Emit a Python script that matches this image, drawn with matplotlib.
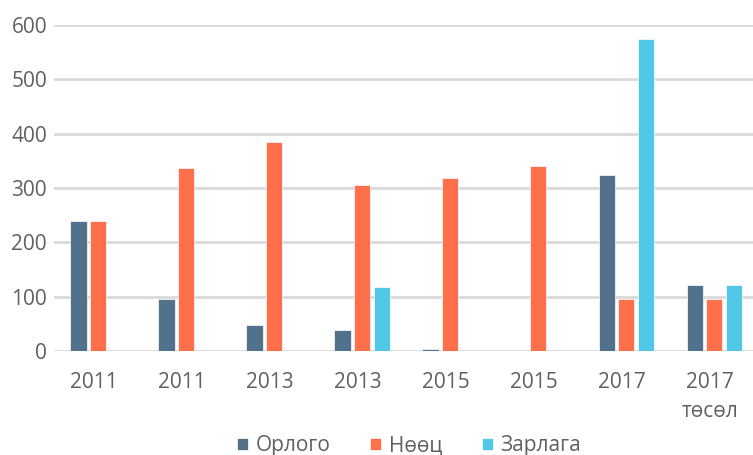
import numpy as np
import matplotlib
matplotlib.use("Agg")
import matplotlib.pyplot as plt

# categories and series
categories = ["2011", "2011", "2013", "2013", "2015", "2015", "2017", "2017\nтөсөл"]
orlogo = [240, 96, 48, 39, 4, 0, 324, 122]
neots = [240, 337, 385, 306, 319, 341, 96, 96]
zarlaga = [0, 0, 0, 118, 0, 0, 574, 122]
series_names = ["Орлого", "Нөөц", "Зарлага"]
colors = ["#52718b", "#ff6f4a", "#51c7e8"]

plt.rcParams["font.family"] = ["Open Sans", "DejaVu Sans"]

fig = plt.figure(figsize=(7.53, 4.55), dpi=100)
ax = fig.add_axes([54 / 753, 104 / 455, 1 - 54 / 753, 326 / 455])

x = np.arange(len(categories))
w = 0.185
step = 0.222
for k, (vals, name, c) in enumerate(zip([orlogo, neots, zarlaga], series_names, colors)):
    ax.bar(x + (k - 1) * step, vals, width=w, color=c, edgecolor="#ffffff",
           linewidth=0.5, label=name, zorder=3)

ax.set_xlim(-0.5, 7.44)
ax.set_ylim(0, 600)
ax.set_yticks(range(0, 601, 100))
ax.set_xticks(x - 0.05)
ax.set_xticklabels(categories, linespacing=1.5)
ax.yaxis.grid(True, color="#dadada", linewidth=2.0, zorder=0)
ax.set_axisbelow(True)
for s in ax.spines.values():
    s.set_visible(False)
ax.tick_params(axis="both", length=0, colors="#606060", labelsize=15)
ax.tick_params(axis="y", pad=5)
ax.tick_params(axis="x", pad=15)
for lbl in ax.get_xticklabels():
    lbl.set_verticalalignment("top")

fig.legend(loc="center", bbox_to_anchor=(0.543, 9 / 455), ncol=3, frameon=False,
           fontsize=15, handlelength=0.55, handleheight=0.55, handletextpad=0.35,
           columnspacing=1.9, labelcolor="#606060")

fig.savefig("out.png", dpi=100)
